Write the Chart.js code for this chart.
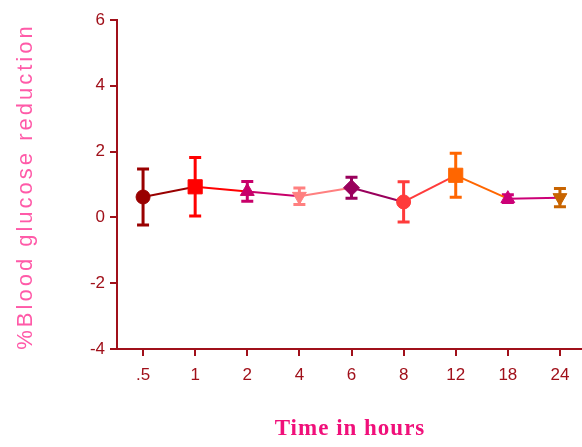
<!DOCTYPE html>
<html>
<head>
  <title>Blood glucose reduction</title>
  <style>
    body { margin: 0; overflow: hidden; background: #fff; }
    #chart { display: block; }
  </style>
  <script src="https://cdn.jsdelivr.net/npm/chart.js"></script>
</head>
<body>
  <canvas id="chart" width="600" height="447"></canvas>
  <script>
    const hours = ['.5', '1', '2', '4', '6', '8', '12', '18', '24'];
    const means = [0.62, 0.93, 0.79, 0.64, 0.90, 0.47, 1.28, 0.57, 0.60];
    const errs = [0.85, 0.89, 0.30, 0.25, 0.32, 0.61, 0.67, 0.12, 0.28];
    const colors = ['#990000', '#ff0000', '#c8006a', '#ff8080', '#99005c', '#ff3b3b', '#ff6600', '#cc0077', '#c86400'];
    const shapes = ['circle', 'rect', 'triangle', 'triangle', 'rectRot', 'circle', 'rect', 'triangle', 'triangle'];
    const rotations = [0, 0, 0, 180, 0, 0, 0, 0, 180];
    const radii = [7, 10, 8, 8, 8, 7, 10, 8, 8];
    const yTicks = [-4, -2, 0, 2, 4, 6];
    const yTitle = '%Blood glucose reduction';
    const xTitle = 'Time in hours';

    const axisColor = '#a0101a';
    const tickFont = { family: 'Liberation Sans, Arial', size: 17 };

    // error bars, drawn under the markers
    const errorBars = {
      id: 'errorBars',
      beforeDatasetsDraw(chart) {
        const ctx = chart.ctx;
        const x = chart.scales.x, y = chart.scales.y;
        ctx.save();
        means.forEach((m, i) => {
          const px = x.getPixelForValue(i);
          const top = y.getPixelForValue(m + errs[i]);
          const bot = y.getPixelForValue(m - errs[i]);
          ctx.strokeStyle = colors[i];
          ctx.lineWidth = 3;
          ctx.beginPath();
          ctx.moveTo(px, top); ctx.lineTo(px, bot);
          ctx.moveTo(px - 6, top); ctx.lineTo(px + 6, top);
          ctx.moveTo(px - 6, bot); ctx.lineTo(px + 6, bot);
          ctx.stroke();
        });
        ctx.restore();
      }
    };

    // axis titles with wide letter spacing like the original
    const axisTitles = {
      id: 'axisTitles',
      afterDraw(chart) {
        const ctx = chart.ctx;
        const area = chart.chartArea;
        ctx.save();
        ctx.letterSpacing = '3px';
        ctx.fillStyle = '#ff5aa8';
        ctx.font = '22px "Liberation Sans", Arial';
        ctx.textAlign = 'center';
        ctx.textBaseline = 'middle';
        ctx.translate(26, (area.top + area.bottom) / 2 + 2);
        ctx.rotate(-Math.PI / 2);
        ctx.fillText(yTitle, 0, 0);
        ctx.restore();

        ctx.save();
        ctx.letterSpacing = '1px';
        ctx.fillStyle = '#f0107a';
        ctx.font = 'bold 23px "Liberation Serif", serif';
        ctx.textAlign = 'center';
        ctx.textBaseline = 'alphabetic';
        ctx.fillText(xTitle, 350, 435);
        ctx.restore();
      }
    };

    const ctx = document.getElementById('chart').getContext('2d');
    new Chart(ctx, {
      type: 'line',
      data: {
        labels: hours,
        datasets: [{
          data: means,
          borderWidth: 2,
          borderColor: colors[0],
          segment: { borderColor: c => colors[c.p0DataIndex] },
          pointStyle: shapes,
          pointRotation: rotations,
          pointRadius: radii,
          pointHoverRadius: radii,
          pointBackgroundColor: colors,
          pointBorderColor: colors,
          pointBorderWidth: 1,
          tension: 0
        }]
      },
      options: {
        responsive: false,
        animation: false,
        layout: { padding: { top: 20, right: 14, left: 0, bottom: 0 } },
        plugins: { legend: { display: false }, tooltip: { enabled: false } },
        scales: {
          x: {
            offset: true,
            afterFit: s => { s.height = 98; },
            border: { color: axisColor, width: 2 },
            grid: { drawOnChartArea: false, color: axisColor, tickLength: 7, lineWidth: 2, offset: false },
            ticks: { color: axisColor, font: tickFont, padding: 9, maxRotation: 0 }
          },
          y: {
            min: -4, max: 6,
            afterFit: s => { s.width = 117; },
            afterBuildTicks: s => { s.ticks = yTicks.map(v => ({ value: v })); },
            border: { color: axisColor, width: 2 },
            grid: { drawOnChartArea: false, color: axisColor, tickLength: 7, lineWidth: 2 },
            ticks: { color: axisColor, font: tickFont, padding: 5 }
          }
        }
      },
      plugins: [errorBars, axisTitles]
    });
  </script>
</body>
</html>
